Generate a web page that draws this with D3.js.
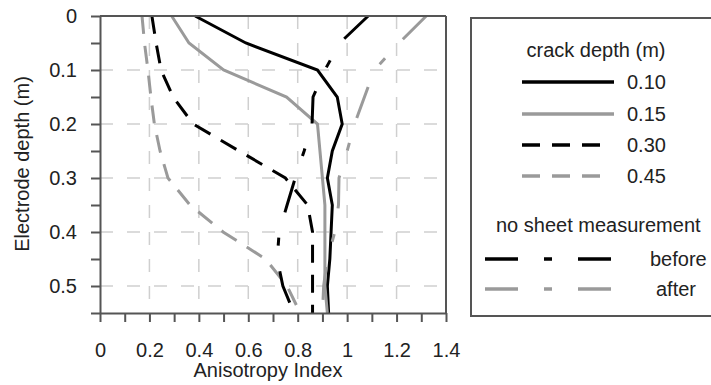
<!DOCTYPE html>
<html>
<head>
<meta charset="utf-8">
<script src="https://cdn.jsdelivr.net/npm/d3@7"></script>
<style>
  html, body { margin: 0; padding: 0; background: #fff; }
  svg { display: block; font-family: "Liberation Sans", Arial, sans-serif; }
</style>
</head>
<body>
<svg id="chart" width="711" height="385"></svg>
<script>
// ---------- data ----------
const depths   = [0, 0.05, 0.10, 0.15, 0.20, 0.25, 0.30, 0.35, 0.40, 0.45, 0.50, 0.55];
const crack010 = [0.385, 0.59, 0.88, 0.96, 0.98, 0.94, 0.92, 0.94, 0.935, 0.93, 0.92, 0.925];
const crack015 = [0.29, 0.36, 0.50, 0.755, 0.88, 0.89, 0.90, 0.91, 0.91, 0.91, 0.91, 0.92];
const crack030 = [0.21, 0.227, 0.247, 0.296, 0.377, 0.563, 0.75, 0.84, 0.86, 0.86, 0.86, 0.86];
const crack045 = [0.17, 0.18, 0.194, 0.206, 0.22, 0.243, 0.275, 0.364, 0.498, 0.67, 0.757, 0.81];
const noSheetBefore = [1.085, 0.97, 0.91, 0.862, 0.858, 0.826, 0.79, 0.757, 0.725, 0.717, 0.74, 0.785];
const noSheetAfter  = [1.32, 1.21, 1.11, 1.07, 1.03, 1.0, 0.967, 0.965, 0.95, 0.92, 0.905, 0.90];

const xTickValues = [0, 0.2, 0.4, 0.6, 0.8, 1.0, 1.2, 1.4];
const xTickLabels = ["0", "0.2", "0.4", "0.6", "0.8", "1", "1.2", "1.4"];
const yTickValues = [0, 0.1, 0.2, 0.3, 0.4, 0.5];
const yTickLabels = ["0", "0.1", "0.2", "0.3", "0.4", "0.5"];

const legendTitle1 = "crack depth (m)";
const legendTitle2 = "no sheet measurement";
const crackLabels = ["0.10", "0.15", "0.30", "0.45"];
const sheetLabels = ["before", "after"];

const xTitle = "Anisotropy Index";
const yTitle = "Electrode depth (m)";

// ---------- styles ----------
const BLACK = "#000", GREY = "#9a9a9a";
const styles = [
  { values: crack010, color: BLACK, dash: null },
  { values: crack015, color: GREY,  dash: null },
  { values: crack030, color: BLACK, dash: "18,12" },
  { values: crack045, color: GREY,  dash: "18,12" },
  { values: noSheetBefore, color: BLACK, dash: "33,26,8,26" },
  { values: noSheetAfter,  color: GREY,  dash: "33,26,8,26" }
];

// ---------- layout ----------
const svg = d3.select("#chart");
const L = 100, R = 446, T = 16, B = 313;
const x = d3.scaleLinear().domain([0, 1.4]).range([L, R]);
const y = d3.scaleLinear().domain([0, 0.55]).range([T, B]);
const FONT = 20;
const AXIS = "#555";

// gridlines
const grid = svg.append("g").attr("stroke", "#cfcfcf").attr("stroke-width", 1.5)
  .attr("stroke-dasharray", "13,14");
grid.selectAll("line.v").data(xTickValues.filter(v => v > 0 && v < 1.4)).enter()
  .append("line").attr("x1", d => x(d)).attr("x2", d => x(d)).attr("y1", T).attr("y2", B);
grid.selectAll("line.h").data(yTickValues.filter(v => v > 0)).enter()
  .append("line").attr("y1", d => y(d)).attr("y2", d => y(d)).attr("x1", L).attr("x2", R);

// series lines
const line = d3.line().x(d => x(d[0])).y(d => y(d[1]));
const plot = svg.append("g");
styles.forEach(s => {
  plot.append("path")
    .datum(s.values.map((v, i) => [v, depths[i]]))
    .attr("d", line)
    .attr("fill", "none")
    .attr("stroke", s.color)
    .attr("stroke-width", 3)
    .attr("stroke-dasharray", s.dash);
});

// frame (top and right)
svg.append("line").attr("x1", L).attr("x2", R).attr("y1", T).attr("y2", T)
  .attr("stroke", AXIS).attr("stroke-width", 2);
svg.append("line").attr("x1", R).attr("x2", R).attr("y1", T).attr("y2", B)
  .attr("stroke", AXIS).attr("stroke-width", 2);

// left axis (minor ticks every 0.05)
const yAxis = d3.axisLeft(y)
  .tickValues(d3.range(0, 12).map(i => i * 0.05))
  .tickSize(9).tickSizeOuter(0).tickPadding(14)
  .tickFormat((d) => {
    const k = yTickValues.findIndex(v => Math.abs(v - d) < 1e-9);
    return k >= 0 ? yTickLabels[k] : "";
  });
const gy = svg.append("g").attr("transform", `translate(${L},0)`).call(yAxis);

// bottom axis (ticks every 0.1)
const xAxis = d3.axisBottom(x)
  .tickValues(d3.range(0, 15).map(i => i * 0.1))
  .tickSize(9).tickSizeOuter(0).tickPadding(21)
  .tickFormat((d) => {
    const k = xTickValues.findIndex(v => Math.abs(v - d) < 1e-9);
    return k >= 0 ? xTickLabels[k] : "";
  });
const gx = svg.append("g").attr("transform", `translate(0,${B})`).call(xAxis);

[gx, gy].forEach(g => {
  g.select(".domain").attr("stroke", AXIS).attr("stroke-width", 2);
  g.selectAll(".tick line").attr("stroke", AXIS).attr("stroke-width", 2);
  g.selectAll(".tick text").attr("fill", "#222").style("font-size", FONT + "px")
    .style("font-family", '"Liberation Sans", Arial, sans-serif');
});

// axis titles
svg.append("text").attr("x", 268).attr("y", 377).attr("text-anchor", "middle")
  .attr("fill", "#222").style("font-size", FONT + "px").text(xTitle);
svg.append("text").attr("transform", "translate(29,164) rotate(-90)")
  .attr("text-anchor", "middle").attr("fill", "#222").style("font-size", FONT + "px").text(yTitle);

// legend
const lg = svg.append("g");
lg.append("rect").attr("x", 471).attr("y", 18).attr("width", 260).attr("height", 298)
  .attr("fill", "#fff").attr("stroke", AXIS).attr("stroke-width", 2);
lg.append("text").attr("x", 596).attr("y", 57).attr("text-anchor", "middle")
  .attr("fill", "#222").style("font-size", FONT + "px").text(legendTitle1);
const crackY = [82, 114, 145, 176];
crackLabels.forEach((lab, i) => {
  const s = styles[i];
  const x2 = s.dash ? 600 : 614;
  lg.append("line").attr("x1", 522).attr("x2", x2).attr("y1", crackY[i]).attr("y2", crackY[i])
    .attr("stroke", s.color).attr("stroke-width", 3.5).attr("stroke-dasharray", s.dash);
  lg.append("text").attr("x", 627).attr("y", crackY[i] + 7).attr("fill", "#222")
    .style("font-size", FONT + "px").text(lab);
});
lg.append("text").attr("x", 496).attr("y", 232).attr("fill", "#222")
  .style("font-size", FONT + "px").text(legendTitle2);
const sheetY = [259, 289];
const sheetTextX = [650, 656];
sheetLabels.forEach((lab, i) => {
  const s = styles[4 + i];
  lg.append("line").attr("x1", 485).attr("x2", 614).attr("y1", sheetY[i]).attr("y2", sheetY[i])
    .attr("stroke", s.color).attr("stroke-width", 3.5).attr("stroke-dasharray", s.dash);
  lg.append("text").attr("x", sheetTextX[i]).attr("y", sheetY[i] + 7).attr("fill", "#222")
    .style("font-size", FONT + "px").text(lab);
});
</script>
</body>
</html>
